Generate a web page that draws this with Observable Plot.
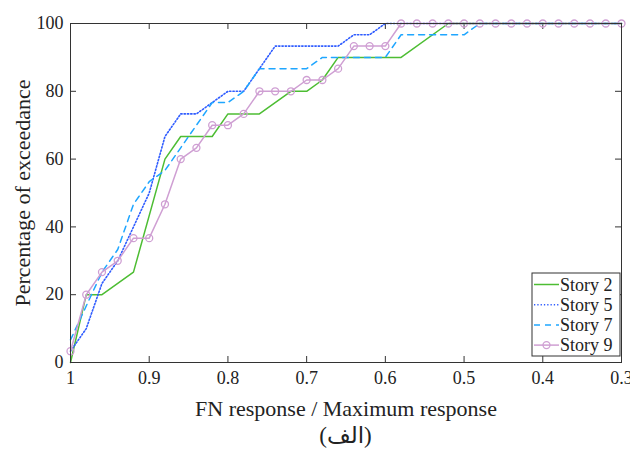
<!DOCTYPE html>
<html><head><meta charset="utf-8">
<script src="https://cdn.jsdelivr.net/npm/d3@7"></script>
<script src="https://cdn.jsdelivr.net/npm/@observablehq/plot@0.6"></script>
<style>
body{margin:0;background:#fff;}
#cap{margin-left:70px;width:551px;text-align:center;font:23px 'Liberation Serif','DejaVu Sans',serif;height:32px;line-height:32px;color:#222;}
</style>
</head><body><div id="chart"></div><div id="cap" dir="rtl">(الف)</div>
<script>
// ---- data ----
const seriesNames = ["Story 2", "Story 5", "Story 7", "Story 9"];
const seriesColors = ["#4dbd33", "#2f5cff", "#1fa6ff", "#cf9fd3"];

const x2 = [1, 0.98, 0.96, 0.92, 0.88, 0.86, 0.82, 0.80, 0.76, 0.72, 0.70, 0.68, 0.66, 0.58, 0.52, 0.30];
const y2 = [0, 20, 20, 26.67, 60, 66.67, 66.67, 73.33, 73.33, 80, 80, 83.33, 90, 90, 100, 100];

const x5 = [1, 0.98, 0.96, 0.94, 0.92, 0.90, 0.88, 0.86, 0.84, 0.82, 0.80, 0.78, 0.76, 0.74, 0.66, 0.64, 0.62, 0.60, 0.30];
const y5 = [3.33, 10, 23.33, 30, 40, 50, 66.67, 73.33, 73.33, 76.67, 80, 80, 86.67, 93.33, 93.33, 96.67, 96.67, 100, 100];

const x7 = [1, 0.98, 0.96, 0.94, 0.92, 0.90, 0.88, 0.86, 0.84, 0.82, 0.80, 0.78, 0.76, 0.70, 0.68, 0.60, 0.58, 0.50, 0.48, 0.30];
const y7 = [6.67, 16.67, 26.67, 33.33, 46.67, 53.33, 56.67, 63.33, 70, 76.67, 76.67, 80, 86.67, 86.67, 90, 90, 96.67, 96.67, 100, 100];

const x9 = [1, 0.98, 0.96, 0.94, 0.92, 0.90, 0.88, 0.86, 0.84, 0.82, 0.80, 0.78, 0.76, 0.74, 0.72, 0.70, 0.68, 0.66,
            0.64, 0.62, 0.60, 0.58, 0.56, 0.54, 0.52, 0.50, 0.48, 0.46, 0.44, 0.42, 0.40, 0.38, 0.36, 0.34, 0.32, 0.30];
const y9 = [3.33, 20, 26.67, 30, 36.67, 36.67, 46.67, 60, 63.33, 70, 70, 73.33, 80, 80, 80, 83.33, 83.33, 86.67,
            93.33, 93.33, 93.33, 100, 100, 100, 100, 100, 100, 100, 100, 100, 100, 100, 100, 100, 100, 100];

const xTicks = [1, 0.9, 0.8, 0.7, 0.6, 0.5, 0.4, 0.3];
const yTicks = [0, 20, 40, 60, 80, 100];
const xLabel = "FN response / Maximum response";
const yLabel = "Percentage of exceedance";

const zip = (xs, ys) => xs.map((x, i) => ({x, y: ys[i]}));
const d2 = zip(x2, y2), d5 = zip(x5, y5), d7 = zip(x7, y7), d9 = zip(x9, y9);

// ---- layout ----
const W = 630, H = 420, mL = 70, mR = 9, mT = 23, mB = 58;
const pw = W - mL - mR, ph = H - mT - mB, tk = 6;
const font = "Liberation Serif, Times New Roman, serif";
const axisColor = "#333";
const innerX = xTicks.slice(1, -1), innerY = yTicks.slice(1, -1);

const plot = Plot.plot({
  width: W, height: H,
  marginLeft: mL, marginRight: mR, marginTop: mT, marginBottom: mB,
  style: {fontFamily: font, fontSize: "18px", color: "#222", background: "#fff", overflow: "visible"},
  x: {domain: [1, 0.3]},
  y: {domain: [0, 100]},
  marks: [
    Plot.axisX(xTicks, {tickSize: 0, tickPadding: 9, tickFormat: d => d === 1 ? "1" : d.toFixed(1), label: null, fontSize: 18, fontFamily: font}),
    Plot.axisY(yTicks, {tickSize: 0, tickPadding: 7, tickFormat: d => String(d), label: null, fontSize: 18, fontFamily: font}),
    // inward ticks on all four sides
    Plot.ruleX(innerX, {x: d => d, insetTop: ph - tk, stroke: axisColor}),
    Plot.ruleX(innerX, {x: d => d, insetBottom: ph - tk, stroke: axisColor}),
    Plot.ruleY(innerY, {y: d => d, insetRight: pw - tk, stroke: axisColor}),
    Plot.ruleY(innerY, {y: d => d, insetLeft: pw - tk, stroke: axisColor}),
    Plot.line(d2, {x: "x", y: "y", stroke: seriesColors[0], strokeWidth: 1.5}),
    Plot.line(d5, {x: "x", y: "y", stroke: seriesColors[1], strokeWidth: 1.6, strokeDasharray: "1.3,2"}),
    Plot.line(d7, {x: "x", y: "y", stroke: seriesColors[2], strokeWidth: 1.5, strokeDasharray: "6,5"}),
    Plot.line(d9, {x: "x", y: "y", stroke: seriesColors[3], strokeWidth: 1.5}),
    Plot.dot(d9, {x: "x", y: "y", r: 3.5, stroke: seriesColors[3], strokeWidth: 1.3, fill: "none"}),
    Plot.frame({stroke: axisColor, strokeWidth: 1}),
    Plot.text([xLabel], {text: d => d, frameAnchor: "bottom", dy: 46, fontSize: 22, fontFamily: font, fill: "#222", textAnchor: "middle", lineAnchor: "middle"}),
    Plot.text([yLabel], {text: d => d, frameAnchor: "left", dx: -48, rotate: -90, fontSize: 22, fontFamily: font, fill: "#222", textAnchor: "middle", lineAnchor: "middle"})
  ]
});
document.getElementById("chart").appendChild(plot);

// ---- legend (inside the axes, bottom right) ----
const svg = d3.select(plot);
const lx = 532, ly = 273, lw = 88, lh = 83;
const g = svg.append("g").attr("text-anchor", "start");
g.append("rect").attr("x", lx).attr("y", ly).attr("width", lw).attr("height", lh)
  .attr("fill", "#fff").attr("stroke", axisColor).attr("stroke-width", 1);
const dashes = [null, "1.3,2", "6,5", null];
seriesNames.forEach((name, i) => {
  const cy = ly + 11.5 + i * 20.2;
  const ln = g.append("line").attr("x1", lx + 2).attr("x2", lx + 27).attr("y1", cy).attr("y2", cy)
    .attr("stroke", seriesColors[i]).attr("stroke-width", 1.5);
  if (dashes[i]) ln.attr("stroke-dasharray", dashes[i]);
  if (i === 3) g.append("circle").attr("cx", lx + 14.5).attr("cy", cy).attr("r", 3.5)
    .attr("fill", "none").attr("stroke", seriesColors[i]).attr("stroke-width", 1.3);
  g.append("text").attr("x", lx + 28).attr("y", cy).attr("dy", "0.35em").attr("text-anchor", "start")
    .attr("font-family", font).style("font-family", font).style("font-size", "18px").attr("fill", "#222").text(name);
});
</script></body></html>
